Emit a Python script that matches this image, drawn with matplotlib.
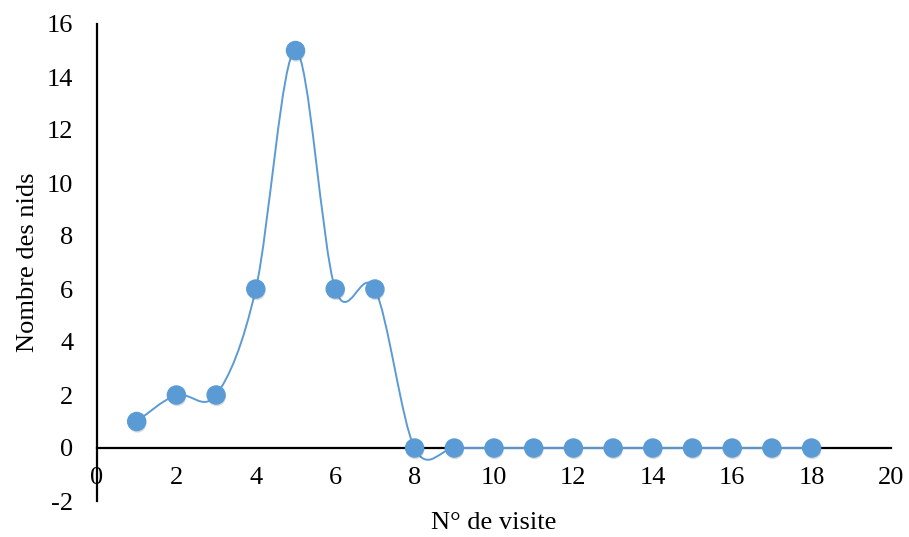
import numpy as np
import matplotlib
matplotlib.use("Agg")
import matplotlib.pyplot as plt
from matplotlib.path import Path
from matplotlib.patches import PathPatch
import matplotlib.patheffects as pe

plt.rcParams['font.family'] = ['Liberation Serif', 'DejaVu Serif']
plt.rcParams['axes.unicode_minus'] = False

# data
visite = list(range(1, 19))
nids = [1, 2, 2, 6, 15, 6, 6, 0, 0, 0, 0, 0, 0, 0, 0, 0, 0, 0]
blue = '#5B9BD5'

fig = plt.figure(figsize=(9.09, 5.37), dpi=100)
ax = fig.add_axes([97/909, 1 - 501/537, (891-97)/909, (501-24)/537])

# smoothed line (Excel-style, Catmull-Rom as cubic beziers)
P = np.column_stack([visite, nids]).astype(float)
verts = [P[0]]
codes = [Path.MOVETO]
n = len(P)
for i in range(n - 1):
    p0 = P[i - 1] if i > 0 else P[i]
    p1 = P[i]
    p2 = P[i + 1]
    p3 = P[i + 2] if i + 2 < n else P[i + 1]
    c1 = p1 + (p2 - p0) / 6
    c2 = p2 - (p3 - p1) / 6
    verts += [c1, c2, p2]
    codes += [Path.CURVE4] * 3
ax.add_patch(PathPatch(Path(verts, codes), fill=False, edgecolor=blue, lw=1.4, zorder=3))

ax.plot(visite, nids, ls='none', marker='o', ms=13, mfc=blue, mec=blue, zorder=4,
        path_effects=[pe.SimplePatchShadow(offset=(0.5, -1.5), alpha=0.18), pe.Normal()])

ax.set_xlim(0, 20)
ax.set_ylim(-2, 16)
ax.set_xticks(range(0, 21, 2))
ax.set_yticks(range(-2, 17, 2))

ax.spines['top'].set_visible(False)
ax.spines['right'].set_visible(False)
ax.spines['left'].set_position(('data', 0))
ax.spines['bottom'].set_position(('data', 0))
for s in ['left', 'bottom']:
    ax.spines[s].set_linewidth(1.6)
    ax.spines[s].set_zorder(2)

ax.tick_params(axis='both', length=0, labelsize=19)
ax.tick_params(axis='x', pad=14)
ax.tick_params(axis='y', pad=17)

fig.text(494/909, 1 - 523/537, 'N° de visite', ha='center', va='center', fontsize=19)
fig.text(28/909, 1 - 262/537, 'Nombre des nids', ha='center', va='center', rotation=90, fontsize=19)

fig.savefig('out.png', dpi=100)
